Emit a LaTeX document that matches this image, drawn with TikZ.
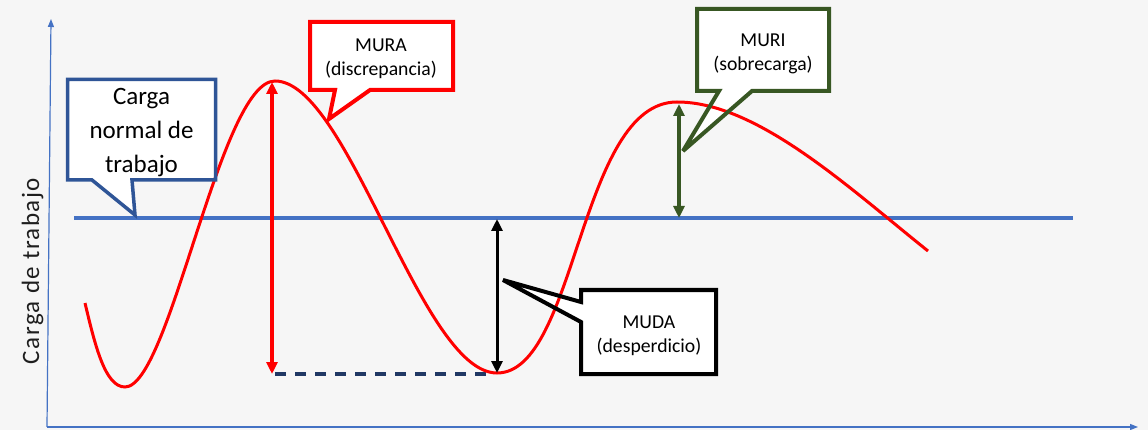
\documentclass[tikz,border=0pt]{standalone}
\usepackage{fontspec}
\setmainfont{Carlito}
\newfontfamily\axisfont[LetterSpace=6]{Carlito}
\usetikzlibrary{arrows.meta}
\definecolor{officeblue}{HTML}{4472C4}
\definecolor{calloutblue}{HTML}{2F5597}
\definecolor{darkgreen}{HTML}{385723}
\definecolor{dashnavy}{HTML}{203864}
\definecolor{bggray}{HTML}{F6F6F6}
\definecolor{labelgray}{HTML}{1E1E1E}
\begin{document}
\begin{tikzpicture}[x=1pt,y=-1pt,
  outline/.style={line width=4pt, line join=miter, miter limit=4},
  ctext/.style={align=center, font=\fontsize{19.7}{24}\selectfont, inner sep=0pt, text=black},
  dimarrow/.style={{Triangle[length=12pt,width=11pt]}-{Triangle[length=12pt,width=11pt]}},
  axisline/.style={officeblue, line width=1.2pt, -{Triangle[length=8pt,width=6pt]}}
]
\fill[bggray] (0,0) rectangle (1148,430);
\useasboundingbox (0,0) rectangle (1148,430);

% coordinates
\coordinate (origin) at (47,427);
\coordinate (ytip) at (51,19);
\coordinate (xtip) at (1138,427);
\coordinate (nl) at (74,218);
\coordinate (nr) at (1073,218);
\coordinate (dashL) at (275,374);
\coordinate (dashR) at (487,374);
\coordinate (redtop) at (272,82);
\coordinate (redbot) at (272,374);
\coordinate (blktop) at (497,219);
\coordinate (blkbot) at (497,373);
\coordinate (grntop) at (679,104);
\coordinate (grnbot) at (679,218);
\coordinate (cargatip) at (135,215);
\coordinate (muratip) at (329,119);
\coordinate (muritip) at (683,151);
\coordinate (mudatip) at (503,280);

% axes
\draw[axisline] (origin) -- (ytip);
\draw[axisline] (origin) -- (xtip);
\node[rotate=90, anchor=base, inner sep=0pt, text=labelgray,
      font=\axisfont\fontsize{25}{30}\selectfont] (ylabel) at (39,271) {Carga de trabajo};

% normal load line
\draw[officeblue, line width=3.5pt] (nl) -- (nr);
% dashed reference
\draw[dashnavy, line width=3.2pt, dash pattern=on 11pt off 9pt] (dashL) -- (dashR);

% callout fills
\fill[white] (67.5,79.5) -- (215.5,79.5) -- (215.5,180) -- (132,180) -- (cargatip) -- (92,180) -- (67.5,180) -- cycle;
\fill[white] (310,22) -- (453,22) -- (453,90) -- (370,90) -- (muratip) -- (335,90) -- (310,90) -- cycle;
\fill[white] (697,9) -- (829,9) -- (829,91) -- (752,91) -- (muritip) -- (719,91) -- (697,91) -- cycle;
\fill[white] (581,290) -- (716,290) -- (716,374) -- (581,374) -- (581,322) -- (mudatip) -- (581,302) -- cycle;

% workload curve
\draw[red, line width=3pt] (85,303) .. controls (95,345) and (105,387) .. (125,387)
  .. controls (170,387) and (220,81) .. (275,81)
  .. controls (348.5,81) and (421,373) .. (497,373)
  .. controls (577,373) and (579,102) .. (677,102)
  .. controls (757,102) and (848,187) .. (928,251);

% dimension arrows
\draw[dimarrow, red, line width=3.5pt] (redtop) -- (redbot);
\draw[dimarrow, black, line width=3pt] (blktop) -- (blkbot);
\draw[dimarrow, darkgreen, line width=3.2pt] (grntop) -- (grnbot);

% callout outlines
\draw[outline, calloutblue, line width=3.5pt] (67.5,79.5) -- (215.5,79.5) -- (215.5,180) -- (132,180) -- (cargatip) -- (92,180) -- (67.5,180) -- cycle;
\draw[outline, red] (310,22) -- (453,22) -- (453,90) -- (370,90) -- (muratip) -- (335,90) -- (310,90) -- cycle;
\draw[outline, darkgreen] (697,9) -- (829,9) -- (829,91) -- (752,91) -- (muritip) -- (719,91) -- (697,91) -- cycle;
\draw[outline, black] (581,290) -- (716,290) -- (716,374) -- (581,374) -- (581,322) -- (mudatip) -- (581,302) -- cycle;

% callout texts
\node[align=center, inner sep=0pt, font=\fontsize{25}{34}\selectfont] (carga) at (141.5,133) {Carga\\normal de\\trabajo};
\node[ctext] (mura) at (381,59) {MURA\\(discrepancia)};
\node[ctext] (muri) at (763,53.5) {MURI\\(sobrecarga)};
\node[ctext] (muda) at (649,336) {MUDA\\(desperdicio)};
\end{tikzpicture}
\end{document}
